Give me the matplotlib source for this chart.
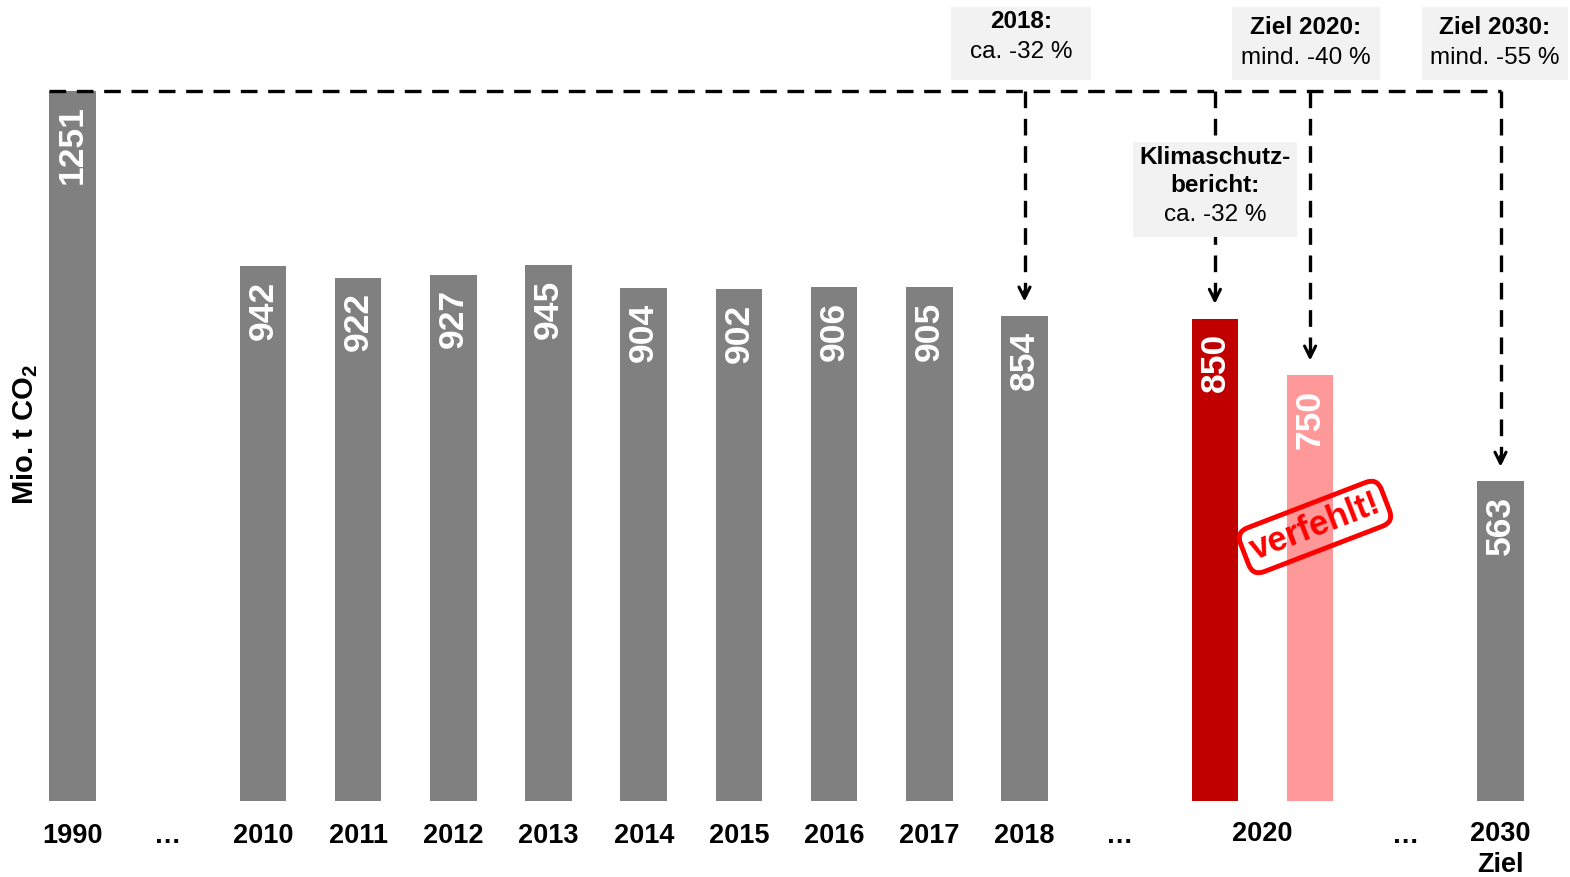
import matplotlib
matplotlib.use("Agg")
import matplotlib.pyplot as plt
from matplotlib.patches import Rectangle

plt.rcParams['font.family'] = ['Liberation Sans', 'DejaVu Sans']
plt.rcParams['mathtext.fontset'] = 'custom'
plt.rcParams['mathtext.rm'] = 'Liberation Sans'
plt.rcParams['mathtext.bf'] = 'Liberation Sans:bold'

# ---- data ----
hist_years = ["1990", "2010", "2011", "2012", "2013", "2014", "2015", "2016", "2017", "2018"]
hist_values = [1251, 942, 922, 927, 945, 904, 902, 906, 905, 854]
bericht_2020 = 850
ziel_2020 = 750
ziel_2030 = 563
gap_label = "…"
label_2020 = "2020"
label_2030 = "2030\nZiel"
ylabel = r"Mio. t CO$_\mathbf{2}$"
box_2018 = ("2018:", "ca. -32 %")
box_z2020 = ("Ziel 2020:", "mind. -40 %")
box_z2030 = ("Ziel 2030:", "mind. -55 %")
box_bericht = ("Klimaschutz-", "bericht:", "ca. -32 %")
stamp_text = "verfehlt!"

GRAY = "#808080"
RED = "#C00000"
PINK = "#FF9999"
BOXC = "#F2F2F2"

# ---- layout ----
W, H = 1570, 877
fig = plt.figure(figsize=(W / 100, H / 100), dpi=100)
ax = fig.add_axes([0, 0, 1, 1])
PX0, SLOT = 72.5, 95.2
PY0, SCALE = 801.0, 710.0 / 1251.0

def px2x(px):
    return (px - PX0) / SLOT

def py2y(py):
    return (PY0 - py) / SCALE

ax.set_xlim(px2x(0), px2x(W))
ax.set_ylim(py2y(H), py2y(0))
ax.axis("off")

bw = 0.49
hist_x = [0] + list(range(2, 2 + len(hist_years) - 1))
x_bericht, x_ziel20, x_ziel30 = 12, 13, 15

bars = [(x, v, GRAY) for x, v in zip(hist_x, hist_values)]
bars += [(x_bericht, bericht_2020, RED), (x_ziel20, ziel_2020, PINK), (x_ziel30, ziel_2030, GRAY)]
for x, v, c in bars:
    ax.bar(x, v, width=bw, color=c, zorder=2)
    ax.annotate(str(v), (x, v), xytext=(0, -10.5), textcoords="offset points",
                rotation=90, ha="center", va="top", color="white",
                fontsize=25.5, fontweight="bold", zorder=3)

# x labels
TL = 19.5
lab_y = py2y(836)
for x, lab in zip(hist_x, hist_years):
    ax.text(x, lab_y, lab, ha="center", va="center", fontsize=TL, fontweight="bold")
for x in (1, 11, 14):
    ax.text(x, lab_y, gap_label, ha="center", va="center", fontsize=TL, fontweight="bold")
ax.text((x_bericht + x_ziel20) / 2, py2y(834), label_2020, ha="center", va="center",
        fontsize=TL, fontweight="bold")
ax.text(x_ziel30, py2y(821), label_2030, ha="center", va="top", fontsize=TL,
        fontweight="bold", linespacing=1.25)

# y label
ax.text(px2x(25), py2y(435), ylabel, rotation=90, ha="center", va="center",
        fontsize=21, fontweight="bold")

# dashed reference lines and arrows
dash = dict(color="black", lw=2.4, linestyle=(0, (5, 3.2)), zorder=4)
top = hist_values[0]
ax.plot([hist_x[0] - bw / 2, x_ziel30], [top, top], **dash)
tip_off = 12 / SCALE
for x, v in [(hist_x[-1], hist_values[-1]), (x_bericht, bericht_2020),
             (x_ziel20, ziel_2020), (x_ziel30, ziel_2030)]:
    tip = v + tip_off
    ax.plot([x, x], [top, tip + 8 / SCALE], **dash)
    ax.annotate("", xy=(x, tip), xytext=(x, tip + 16 / SCALE),
                arrowprops=dict(arrowstyle="->,head_width=0.4,head_length=0.8",
                                color="black", lw=2.2), zorder=5)

# annotation boxes
def add_box(x0, y0, x1, y1, lines, ys, nbold=1):
    ax.add_patch(Rectangle((px2x(x0), py2y(y1)), px2x(x1) - px2x(x0), py2y(y0) - py2y(y1),
                           facecolor=BOXC, edgecolor="none", zorder=6))
    cx = px2x((x0 + x1) / 2)
    for i, (t, yy) in enumerate(zip(lines, ys)):
        ax.text(cx, py2y(yy), t, ha="center", va="center", fontsize=17.5,
                fontweight="bold" if i < nbold else "normal", zorder=7)

add_box(951, 7, 1091, 80, box_2018, [22, 52])
add_box(1232, 7, 1380, 80, box_z2020, [28, 58])
add_box(1422, 7, 1568, 80, box_z2030, [28, 58])
add_box(1133, 142, 1297, 237, box_bericht, [157, 186, 215], nbold=2)

# stamp
ax.text(px2x(1315), py2y(527), stamp_text, rotation=21, ha="center", va="center",
        color="#FF0000", fontsize=25, fontweight="bold", rotation_mode="anchor",
        bbox=dict(boxstyle="round,pad=0.2,rounding_size=0.35", facecolor="none",
                  edgecolor="#FF0000", lw=3.5), zorder=8)

fig.savefig("out.png", dpi=100)
